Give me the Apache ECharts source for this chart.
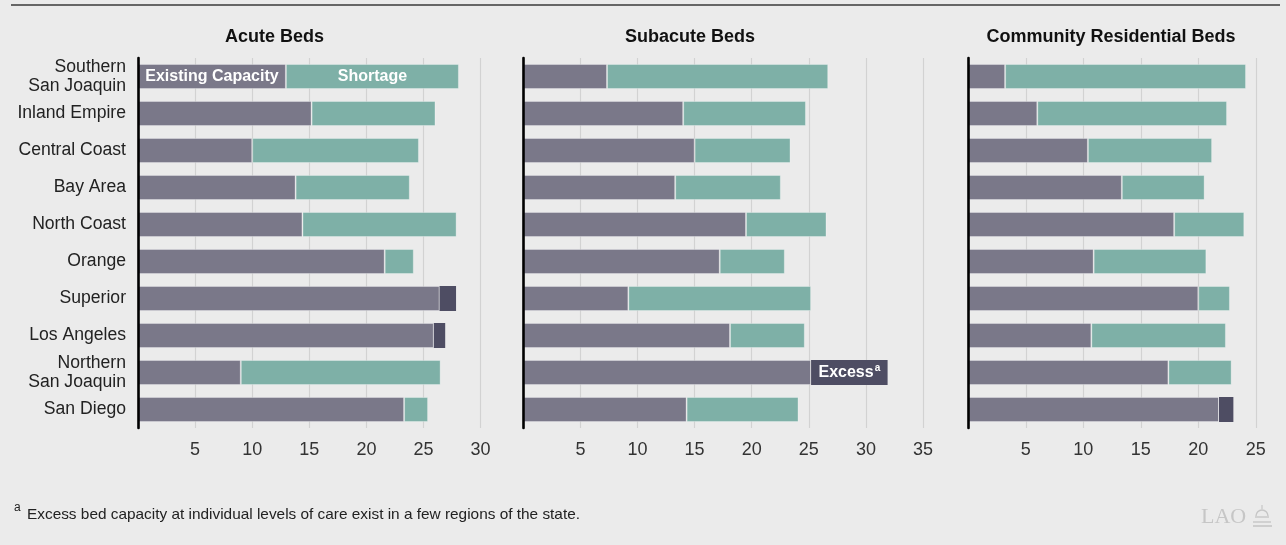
<!DOCTYPE html>
<html>
<head>
<meta charset="utf-8">
<script src="https://cdn.jsdelivr.net/npm/echarts@6/dist/echarts.min.js"></script>
<style>
  html, body { margin: 0; padding: 0; background: #ebebeb; }
  #chart { width: 1286px; height: 545px; }
</style>
</head>
<body>
<div id="chart"></div>
<script>
// Regions, top to bottom
const regions = [
  'Southern\nSan Joaquin', 'Inland Empire', 'Central Coast', 'Bay Area', 'North Coast',
  'Orange', 'Superior', 'Los Angeles', 'Northern\nSan Joaquin', 'San Diego'
];

// Beds per 10,000 residents: existing capacity and projected need, by level of care
const acuteCapacity     = [12.95, 15.2, 10.0, 13.8, 14.4, 21.6, 27.85, 26.9, 9.0, 23.3];
const acuteNeed         = [28.1, 26.05, 24.6, 23.8, 27.9, 24.15, 26.4, 25.9, 26.5, 25.4];
const subacuteCapacity  = [7.33, 14.0, 15.0, 13.3, 19.5, 17.2, 9.2, 18.1, 31.9, 14.3];
const subacuteNeed      = [26.7, 24.75, 23.4, 22.55, 26.55, 22.9, 25.2, 24.65, 25.2, 24.1];
const communityCapacity = [3.2, 6.0, 10.4, 13.35, 17.9, 10.9, 20.0, 10.7, 17.4, 23.05];
const communityNeed     = [24.15, 22.5, 21.2, 20.55, 24.0, 20.7, 22.75, 22.4, 22.9, 21.8];

const panelTitles = ['Acute Beds', 'Subacute Beds', 'Community Residential Beds'];
const axisMax = [30, 35, 25];
const tickStep = 5;

const footnote = 'Excess bed capacity at individual levels of care exist in a few regions of the state.';

// ---- styling ----
const FONT = '"Liberation Sans", Arial, Helvetica, sans-serif';
const C_CAP = '#7a7889';
const C_SHORT = '#7eb0a7';
const C_EXCESS = '#4e4d63';
const C_GRID = '#d2d2d2';

const panels = [
  { cap: acuteCapacity, need: acuteNeed },
  { cap: subacuteCapacity, need: subacuteNeed },
  { cap: communityCapacity, need: communityNeed }
];

// plot geometry (px)
const gridTop = 58, gridHeight = 370;
const gridLeft = [138, 523.3, 968.3];
const pxPerUnit = [11.42, 11.42, 11.5];
const titleCenters = [274.5, 690, 1111];

const r2 = v => Math.round(v * 100) / 100;

const grids = [], xAxes = [], yAxes = [], series = [];

panels.forEach((p, i) => {
  grids.push({
    left: gridLeft[i], top: gridTop,
    width: axisMax[i] * pxPerUnit[i], height: gridHeight,
    containLabel: false
  });
  xAxes.push({
    gridIndex: i, type: 'value', min: 0, max: axisMax[i], interval: tickStep,
    axisLine: { show: false }, axisTick: { show: false },
    splitLine: { show: true, lineStyle: { color: C_GRID, width: 1.2 } },
    axisLabel: {
      margin: 13, fontSize: 18, color: '#333', fontFamily: FONT,
      formatter: v => (v === 0 ? '' : String(v))
    }
  });
  yAxes.push({
    gridIndex: i, type: 'category', data: regions, inverse: true, z: 10,
    axisLine: { show: true, lineStyle: { color: '#000', width: 2.6 } },
    axisTick: { show: false },
    axisLabel: {
      show: i === 0, margin: 12, fontSize: 17.6, lineHeight: 18.5,
      color: '#222', fontFamily: FONT, align: 'right', padding: [3, 0, 0, 0]
    }
  });

  const met = p.cap.map((c, k) => r2(Math.min(c, p.need[k])));
  const shortage = p.cap.map((c, k) => r2(Math.max(p.need[k] - c, 0)));
  const excess = p.cap.map((c, k) => r2(Math.max(c - p.need[k], 0)));

  const inBar = {
    show: true, position: 'inside', color: '#fff', fontWeight: 'bold',
    fontSize: 16, fontFamily: FONT
  };

  const metData = met.map((v, k) => (i === 0 && k === 0)
    ? { value: v, label: Object.assign({}, inBar, { formatter: 'Existing Capacity' }) }
    : v);
  const shortData = shortage.map((v, k) => (i === 0 && k === 0)
    ? { value: v, label: Object.assign({}, inBar, { formatter: 'Shortage' }) }
    : v);
  const excessData = excess.map((v, k) => (i === 1 && k === 8)
    ? {
        value: v,
        label: Object.assign({}, inBar, {
          formatter: 'Excess{sup|a}',
          rich: { sup: { fontSize: 10, fontWeight: 'bold', color: '#fff', fontFamily: FONT, verticalAlign: 'top', padding: [0, 0, 8, 1] } }
        })
      }
    : v);

  const common = {
    type: 'bar', stack: 'p' + i, xAxisIndex: i, yAxisIndex: i,
    barWidth: 25, silent: true, animation: false
  };
  series.push(Object.assign({}, common, {
    name: 'Existing Capacity', data: metData,
    itemStyle: { color: C_CAP, borderColor: 'rgba(255,255,255,0.3)', borderWidth: 1 }
  }));
  series.push(Object.assign({}, common, {
    name: 'Shortage', data: shortData,
    itemStyle: { color: C_SHORT, borderColor: 'rgba(255,255,255,0.3)', borderWidth: 1 }
  }));
  series.push(Object.assign({}, common, {
    name: 'Excess', data: excessData,
    itemStyle: { color: C_EXCESS }
  }));
});

// condensed footnote: measure and fit to the column width
const footFont = '15px ' + FONT;
const ctx = document.createElement('canvas').getContext('2d');
ctx.font = footFont;
const footScale = 553 / ctx.measureText(footnote).width;

const graphics = [
  { type: 'line', shape: { x1: 11, y1: 5, x2: 1280, y2: 5 }, style: { stroke: '#3a3a3a', lineWidth: 1.5 } },
  ...panelTitles.map((t, i) => ({
    type: 'text', x: titleCenters[i], y: 37,
    style: { text: t, font: 'bold 18px ' + FONT, fill: '#111', textAlign: 'center', textVerticalAlign: 'middle' }
  })),
  { type: 'text', x: 14, y: 508, style: { text: 'a', font: '12px ' + FONT, fill: '#222', textAlign: 'left', textVerticalAlign: 'middle' } },
  { type: 'text', x: 27, y: 515, scaleX: footScale,
    style: { text: footnote, font: footFont, fill: '#222', textAlign: 'left', textVerticalAlign: 'middle' } },
  // LAO mark
  { type: 'text', x: 1201, y: 517, style: { text: 'LAO', font: '22px "Liberation Serif", "DejaVu Serif", serif', fill: '#c6c6c6', textAlign: 'left', textVerticalAlign: 'middle' } },
  { type: 'group', x: 1253, y: 505, children: [
      { type: 'line', shape: { x1: 9, y1: 0, x2: 9, y2: 4 }, style: { stroke: '#c6c6c6', lineWidth: 1.2 } },
      { type: 'arc', shape: { cx: 9, cy: 11, r: 6, startAngle: Math.PI, endAngle: 2 * Math.PI }, style: { stroke: '#c6c6c6', fill: 'none', lineWidth: 1.4 } },
      { type: 'line', shape: { x1: 2, y1: 12, x2: 16, y2: 12 }, style: { stroke: '#c6c6c6', lineWidth: 1.4 } },
      { type: 'line', shape: { x1: 0, y1: 17, x2: 18, y2: 17 }, style: { stroke: '#c6c6c6', lineWidth: 1.4 } },
      { type: 'line', shape: { x1: 0, y1: 21, x2: 19, y2: 21 }, style: { stroke: '#c6c6c6', lineWidth: 1.6 } }
  ]}
];

const chart = echarts.init(document.getElementById('chart'), null, { renderer: 'canvas' });
chart.setOption({
  backgroundColor: '#ebebeb',
  animation: false,
  textStyle: { fontFamily: FONT },
  grid: grids,
  xAxis: xAxes,
  yAxis: yAxes,
  series: series,
  graphic: graphics
});
</script>
</body>
</html>
